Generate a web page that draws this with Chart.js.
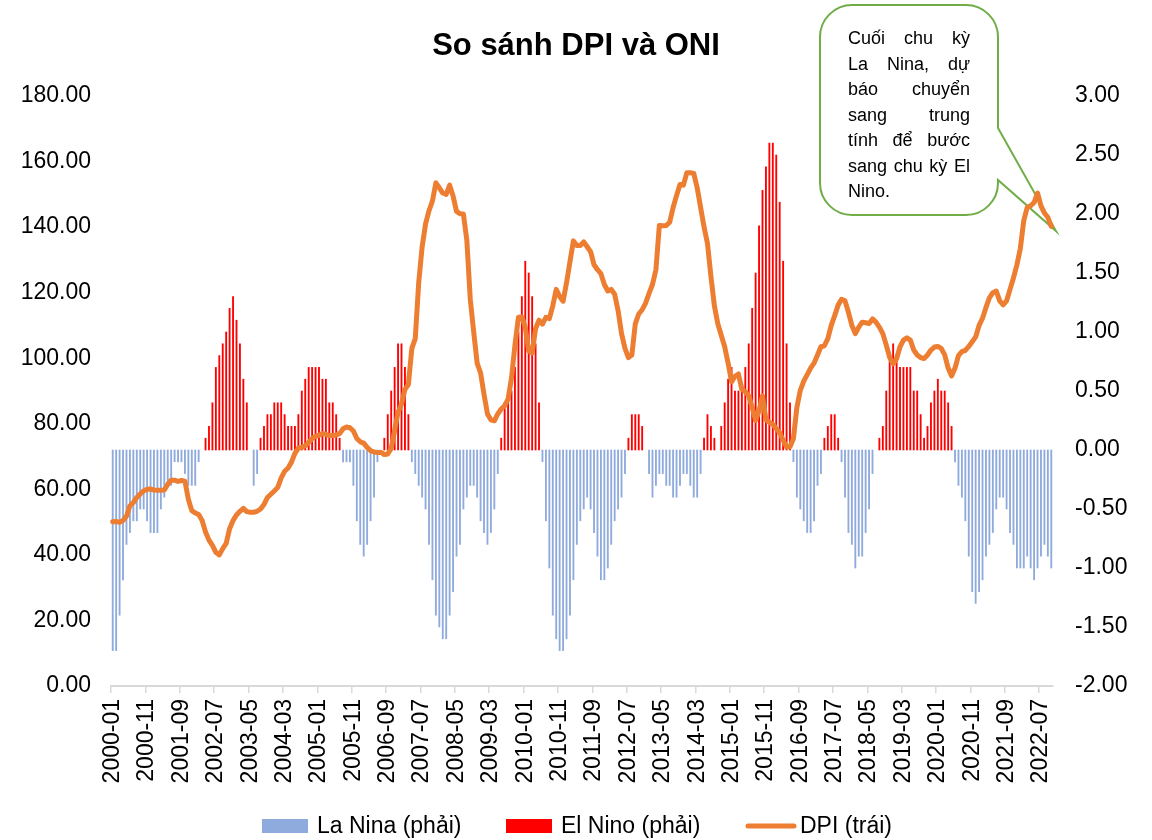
<!DOCTYPE html>
<html>
<head>
<meta charset="utf-8">
<script src="https://cdn.jsdelivr.net/npm/chart.js@4.4.1/dist/chart.umd.min.js"></script>
<style>
html,body{margin:0;padding:0;background:#ffffff;}
#wrap{width:1152px;height:840px;position:relative;}
</style>
</head>
<body>
<div id="wrap"><canvas id="c" width="1152" height="840"></canvas></div>
<script>
// ---------------- data ----------------
const chartTitle = 'So sánh DPI và ONI';
const startYear = 2000;
const startMonth = 1;

// DPI (left axis), monthly from 2000-01
const dpi = [
  50.1, 50.2, 49.9, 50.5, 51.8, 55.0, 56.0, 57.5, 58.6, 59.5,
  60.0, 60.1, 59.8, 59.7, 59.7, 59.8, 61.5, 62.8, 62.8, 62.4,
  62.7, 62.5, 57.0, 53.5, 52.8, 52.3, 50.5, 47.0, 44.5, 42.9,
  40.8, 40.0, 41.9, 43.5, 48.0, 50.5, 52.2, 53.3, 54.2, 53.2,
  53.0, 53.0, 53.3, 54.0, 55.4, 57.5, 58.5, 59.5, 60.6, 63.5,
  65.5, 66.5, 68.3, 71.0, 72.6, 72.8, 73.3, 74.3, 75.5, 76.2,
  76.5, 77.0, 76.8, 76.4, 76.4, 76.6, 77.0, 78.5, 79.0, 78.8,
  77.8, 75.5, 74.5, 74.1, 72.8, 71.8, 71.4, 71.2, 71.3, 70.6,
  70.8, 72.5, 78.0, 83.5, 86.0, 90.5, 92.0, 103.0, 106.0, 123.0,
  134.0, 141.0, 145.0, 148.0, 153.5, 152.0, 150.4, 150.0, 152.8, 149.5,
  144.8, 144.1, 144.0, 136.0, 118.0, 108.0, 98.5, 95.5, 89.0, 83.0,
  81.2, 80.9, 83.0, 84.5, 85.5, 87.5, 94.0, 104.0, 112.5, 112.6,
  109.5, 102.2, 101.6, 109.0, 111.6, 110.4, 112.5, 112.1, 116.0, 121.0,
  118.8, 117.4, 123.0, 129.5, 135.8, 134.4, 134.4, 135.5, 134.0, 132.5,
  128.5, 127.0, 125.8, 122.5, 120.5, 121.0, 119.5, 114.5, 107.5, 103.0,
  100.2, 101.0, 110.5, 113.5, 114.8, 116.8, 119.8, 122.5, 127.0, 140.5,
  140.4, 140.5, 141.5, 146.0, 149.6, 153.0, 152.8, 156.6, 156.6, 156.4,
  152.0, 146.0, 140.0, 135.0, 125.0, 116.0, 110.5, 107.0, 103.5, 98.5,
  92.8, 94.5, 95.2, 90.5, 89.8, 88.5, 85.0, 81.0, 84.0, 88.5,
  81.2, 80.5, 79.8, 78.5, 77.3, 75.0, 72.9, 73.0, 75.5, 85.0,
  90.2, 93.0, 95.0, 97.0, 98.5, 101.0, 103.5, 103.8, 106.0, 110.0,
  113.0, 116.2, 118.0, 117.5, 114.0, 110.0, 107.5, 109.5, 111.0, 110.8,
  110.6, 112.0, 111.0, 109.5, 107.5, 104.0, 100.2, 98.3, 99.8, 103.5,
  105.5, 106.2, 105.5, 102.5, 101.0, 100.2, 99.9, 101.0, 102.5, 103.4,
  103.6, 103.0, 101.0, 97.0, 94.6, 97.0, 100.8, 102.0, 102.4, 103.6,
  105.0, 106.5, 110.0, 112.2, 115.5, 118.4, 120.0, 120.5, 117.5, 116.3,
  117.5, 121.0, 124.5, 128.5, 133.5, 142.0, 146.0, 146.5, 147.5, 150.4,
  146.5, 144.3, 143.0, 140.2
];

// ONI (right axis), monthly from 2000-01
const oni = [
  -1.7, -1.7, -1.4, -1.1, -0.8, -0.7, -0.6, -0.6, -0.5, -0.5, -0.6, -0.7,
  -0.7, -0.7, -0.5, -0.4, -0.3, -0.3, -0.1, -0.1, -0.1, -0.2, -0.3, -0.3,
  -0.3, -0.1, 0.0, 0.1, 0.2, 0.4, 0.7, 0.8, 0.9, 1.0, 1.2, 1.3,
  1.1, 0.9, 0.6, 0.4, 0.0, -0.3, -0.2, 0.1, 0.2, 0.3, 0.3, 0.4,
  0.4, 0.4, 0.3, 0.2, 0.2, 0.2, 0.3, 0.5, 0.6, 0.7, 0.7, 0.7,
  0.7, 0.6, 0.6, 0.4, 0.4, 0.3, 0.1, -0.1, -0.1, -0.1, -0.3, -0.6,
  -0.8, -0.9, -0.8, -0.6, -0.4, -0.1, 0.0, 0.1, 0.3, 0.5, 0.7, 0.9,
  0.9, 0.7, 0.3, -0.1, -0.2, -0.3, -0.4, -0.5, -0.8, -1.1, -1.4, -1.5,
  -1.6, -1.6, -1.4, -1.2, -0.9, -0.8, -0.5, -0.4, -0.3, -0.3, -0.4, -0.6,
  -0.7, -0.8, -0.7, -0.5, -0.2, 0.1, 0.4, 0.5, 0.5, 0.7, 1.0, 1.3,
  1.6, 1.5, 1.3, 0.9, 0.4, -0.1, -0.6, -1.0, -1.4, -1.6, -1.7, -1.7,
  -1.6, -1.4, -1.1, -0.8, -0.6, -0.5, -0.4, -0.5, -0.7, -0.9, -1.1, -1.1,
  -1.0, -0.8, -0.6, -0.5, -0.4, -0.2, 0.1, 0.3, 0.3, 0.3, 0.2, 0.0,
  -0.2, -0.4, -0.3, -0.2, -0.2, -0.3, -0.3, -0.4, -0.4, -0.3, -0.2, -0.2,
  -0.3, -0.4, -0.4, -0.2, 0.1, 0.3, 0.2, 0.1, 0.0, 0.2, 0.4, 0.6,
  0.7, 0.5, 0.5, 0.5, 0.7, 0.9, 1.2, 1.5, 1.9, 2.2, 2.4, 2.6,
  2.6, 2.5, 2.1, 1.6, 0.9, 0.4, -0.1, -0.4, -0.5, -0.6, -0.7, -0.7,
  -0.6, -0.3, -0.2, 0.1, 0.2, 0.3, 0.3, 0.1, -0.1, -0.4, -0.7, -0.8,
  -1.0, -0.9, -0.9, -0.7, -0.5, -0.2, 0.0, 0.1, 0.2, 0.5, 0.8, 0.9,
  0.8, 0.7, 0.7, 0.7, 0.7, 0.5, 0.5, 0.3, 0.1, 0.2, 0.4, 0.5,
  0.6, 0.5, 0.5, 0.4, 0.2, -0.1, -0.3, -0.4, -0.6, -0.9, -1.2, -1.3,
  -1.2, -1.1, -0.9, -0.8, -0.7, -0.5, -0.4, -0.4, -0.5, -0.7, -0.8, -1.0,
  -1.0, -1.0, -0.9, -1.0, -1.1, -1.0, -0.9, -0.8, -0.9, -1.0
];

const seriesNames = ['La Nina (phải)', 'El Nino (phải)', 'DPI (trái)'];
const leftAxis = { min: 0, max: 180, step: 20 };
const rightAxis = { min: -2, max: 3, step: 0.5 };
const labelEvery = 10;
const calloutLines = ['Cuối chu kỳ', 'La Nina, dự', 'báo chuyển', 'sang trung', 'tính để bước', 'sang chu kỳ El', 'Nino.'];

// categories "YYYY-MM"
const months = [];
for (let k = 0; k < dpi.length; k++) {
  const y = startYear + Math.floor((startMonth - 1 + k) / 12);
  const m = (startMonth - 1 + k) % 12 + 1;
  months.push(y + '-' + String(m).padStart(2, '0'));
}
const laNina = oni.map(v => v < 0 ? v : null);
const elNino = oni.map(v => v > 0 ? v : null);

// ---------------- styles ----------------
const FONT = "'Liberation Sans', Arial, Helvetica, sans-serif";
const C_BLUE = '#8FAADC', C_RED = '#FF0000', C_ORANGE = '#ED7D31', C_GREEN = '#70AD47';
Chart.defaults.font.family = FONT;
Chart.defaults.color = '#000000';

function drawCallout(ctx) {
  const x0 = 820, y0 = 5, x1 = 998, y1 = 215, r = 32;
  const tipX = 1056, tipY = 231;
  ctx.save();
  ctx.beginPath();
  ctx.moveTo(x0 + r, y0);
  ctx.lineTo(x1 - r, y0);
  ctx.arcTo(x1, y0, x1, y0 + r, r);
  ctx.lineTo(x1, 128);
  ctx.lineTo(tipX, tipY);
  ctx.lineTo(x1, 180);
  ctx.lineTo(x1, y1 - r);
  ctx.arcTo(x1, y1, x1 - r, y1, r);
  ctx.lineTo(x0 + r, y1);
  ctx.arcTo(x0, y1, x0, y1 - r, r);
  ctx.lineTo(x0, y0 + r);
  ctx.arcTo(x0, y0, x0 + r, y0, r);
  ctx.closePath();
  ctx.fillStyle = '#ffffff';
  ctx.fill();
  ctx.strokeStyle = C_GREEN;
  ctx.lineWidth = 2;
  ctx.stroke();

  ctx.fillStyle = '#000';
  ctx.font = '18px ' + FONT;
  ctx.textBaseline = 'alphabetic';
  ctx.textAlign = 'left';
  const tx0 = 848, tx1 = 970;
  calloutLines.forEach((line, li) => {
    const by = 44 + li * 25.5;
    const words = line.split(' ');
    if (li === calloutLines.length - 1 || words.length < 2) {
      ctx.fillText(line, tx0, by);
      return;
    }
    const widths = words.map(w => ctx.measureText(w).width);
    const total = widths.reduce((a, b) => a + b, 0);
    const gap = (tx1 - tx0 - total) / (words.length - 1);
    let x = tx0;
    words.forEach((w, wi) => { ctx.fillText(w, x, by); x += widths[wi] + gap; });
  });
  ctx.restore();
}

const decor = {
  id: 'decor',
  beforeDatasetsDraw(chart) {
    drawCallout(chart.ctx);
  },
  afterDraw(chart) {
    const ctx = chart.ctx;
    ctx.save();
    // title
    ctx.fillStyle = '#000';
    ctx.font = 'bold 31px ' + FONT;
    ctx.textAlign = 'center';
    ctx.textBaseline = 'middle';
    ctx.fillText(chartTitle, 576, 46);

    // legend
    ctx.font = '23px ' + FONT;
    ctx.textAlign = 'left';
    ctx.fillStyle = C_BLUE;
    ctx.fillRect(262, 819, 46, 14);
    ctx.fillStyle = C_RED;
    ctx.fillRect(506, 819, 46, 14);
    ctx.strokeStyle = C_ORANGE;
    ctx.lineWidth = 5;
    ctx.lineCap = 'round';
    ctx.beginPath(); ctx.moveTo(748, 826); ctx.lineTo(794, 826); ctx.stroke();
    ctx.fillStyle = '#000';
    ctx.fillText(seriesNames[0], 317, 827);
    ctx.fillText(seriesNames[1], 561, 827);
    ctx.fillText(seriesNames[2], 800, 827);
    ctx.restore();
  }
};

new Chart(document.getElementById('c').getContext('2d'), {
  type: 'bar',
  data: {
    labels: months,
    datasets: [
      { type: 'line', label: seriesNames[2], data: dpi, yAxisID: 'y',
        borderColor: C_ORANGE, backgroundColor: C_ORANGE, borderWidth: 5,
        pointRadius: 0, tension: 0, borderJoinStyle: 'round', borderCapStyle: 'round', order: 0 },
      { label: seriesNames[0], data: laNina, yAxisID: 'y1', backgroundColor: C_BLUE,
        barThickness: 1.2, grouped: false, order: 1 },
      { label: seriesNames[1], data: elNino, yAxisID: 'y1', backgroundColor: C_RED,
        barThickness: 1.2, grouped: false, order: 2 }
    ]
  },
  options: {
    responsive: false,
    animation: false,
    events: [],
    layout: { padding: { top: 96, left: 0, right: 0, bottom: 0 } },
    plugins: { legend: { display: false }, title: { display: false }, tooltip: { enabled: false } },
    scales: {
      x: {
        type: 'category',
        offset: true,
        grid: {
          display: true, drawOnChartArea: false, drawTicks: true, tickLength: 7, lineWidth: 1.5,
          color: c => (c.index % labelEvery === 0 ? '#D9D9D9' : 'rgba(0,0,0,0)')
        },
        border: { display: true, color: '#D9D9D9', width: 2 },
        ticks: {
          autoSkip: false, maxRotation: 90, minRotation: 90, padding: 6,
          font: { size: 23 },
          callback: function (v, i) { return i % labelEvery === 0 ? this.getLabelForValue(v) : ''; }
        },
        afterFit: s => { s.height = 154; }
      },
      y: {
        position: 'left', min: leftAxis.min, max: leftAxis.max,
        ticks: { stepSize: leftAxis.step, padding: 20, font: { size: 23 }, callback: v => Number(v).toFixed(2) },
        grid: { display: false, drawTicks: false },
        border: { display: false },
        afterFit: s => { s.width = 111; }
      },
      y1: {
        position: 'right', min: rightAxis.min, max: rightAxis.max,
        ticks: { stepSize: rightAxis.step, padding: 22, font: { size: 23 }, callback: v => Number(v).toFixed(2) },
        grid: { display: false, drawTicks: false },
        border: { display: false },
        afterFit: s => { s.width = 99; }
      }
    }
  },
  plugins: [decor]
});
</script>
</body>
</html>
